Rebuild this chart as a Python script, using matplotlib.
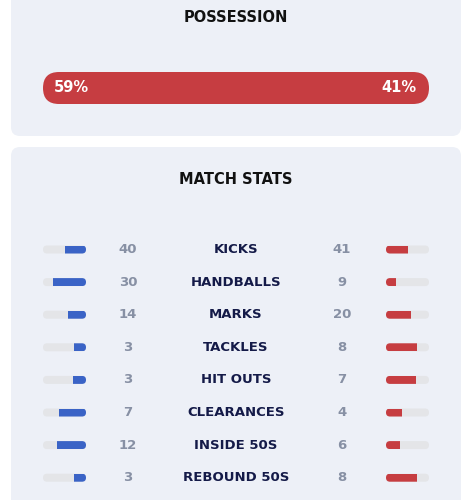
import matplotlib
matplotlib.use("Agg")
import matplotlib.pyplot as plt
from matplotlib.patches import FancyBboxPatch, Rectangle

# ---- data ----
possession_title = "POSSESSION"
stats_title = "MATCH STATS"
possession_home = 59
possession_away = 41
categories = ["KICKS", "HANDBALLS", "MARKS", "TACKLES", "HIT OUTS",
              "CLEARANCES", "INSIDE 50S", "REBOUND 50S"]
home_values = [40, 30, 14, 3, 3, 7, 12, 3]
away_values = [41, 9, 20, 8, 7, 4, 6, 8]

# ---- style ----
W, H = 472, 500
BG = "#ffffff"
PANEL = "#edf0f7"
RED = "#c63d41"
BLUE = "#3a63c6"
TRACK = "#e4e5e8"
NUM = "#8790a4"
LABEL = "#141a48"
TITLE = "#111111"
FONT = "DejaVu Sans"

fig = plt.figure(figsize=(W / 100, H / 100), dpi=100, facecolor=BG)
ax = fig.add_axes([0, 0, 1, 1])
ax.set_xlim(0, W)
ax.set_ylim(H, 0)
ax.axis("off")


def rbox(x, y, w, h, color, r, z=1):
    p = FancyBboxPatch((x, y), w, h,
                       boxstyle=f"round,pad=0,rounding_size={r}",
                       facecolor=color, edgecolor="none", zorder=z)
    ax.add_patch(p)
    return p


# panels
rbox(11, -20, 450, 156, PANEL, 9, 0)
rbox(11, 147, 450, 380, PANEL, 9, 0)

# titles
ax.text(236, 18, possession_title, ha="center", va="center", fontsize=10.5,
        fontweight="bold", color=TITLE, family=FONT)
ax.text(236, 180, stats_title, ha="center", va="center", fontsize=10.5,
        fontweight="bold", color=TITLE, family=FONT)

# possession bar
px0, px1, py, ph = 43, 429, 72, 32
rbox(px0, py, px1 - px0, ph, RED, ph / 2, 2)
ax.text(px0 + 11, py + ph / 2, f"{possession_home}%", ha="left", va="center",
        fontsize=10.5, fontweight="bold", color="white", family=FONT, zorder=3)
ax.text(px1 - 12, py + ph / 2, f"{possession_away}%", ha="right", va="center",
        fontsize=10.5, fontweight="bold", color="white", family=FONT, zorder=3)

# stats rows
row0, row_step = 249.5, 32.6
bh = 8
lx0, lx1 = 43, 86
rx0, rx1 = 386, 429
bw = lx1 - lx0
for i, (cat, hv, av) in enumerate(zip(categories, home_values, away_values)):
    y = row0 + i * row_step
    tot = hv + av
    # left (home) bar, filled from the right
    tr = rbox(lx0, y - bh / 2, bw, bh, TRACK, bh / 2, 2)
    fw = bw * hv / tot
    f = Rectangle((lx1 - fw, y - bh / 2), fw, bh, facecolor=BLUE,
                  edgecolor="none", zorder=3)
    ax.add_patch(f)
    f.set_clip_path(tr)
    # right (away) bar, filled from the left
    tr2 = rbox(rx0, y - bh / 2, bw, bh, TRACK, bh / 2, 2)
    fw2 = bw * av / tot
    f2 = Rectangle((rx0, y - bh / 2), fw2, bh, facecolor=RED,
                   edgecolor="none", zorder=3)
    ax.add_patch(f2)
    f2.set_clip_path(tr2)
    # numbers and label
    ax.text(128, y, str(hv), ha="center", va="center", fontsize=9.5,
            fontweight="bold", color=NUM, family=FONT)
    ax.text(342, y, str(av), ha="center", va="center", fontsize=9.5,
            fontweight="bold", color=NUM, family=FONT)
    ax.text(236, y, cat, ha="center", va="center", fontsize=9.5,
            fontweight="bold", color=LABEL, family=FONT)

fig.savefig("out.png", dpi=100, facecolor=BG)
